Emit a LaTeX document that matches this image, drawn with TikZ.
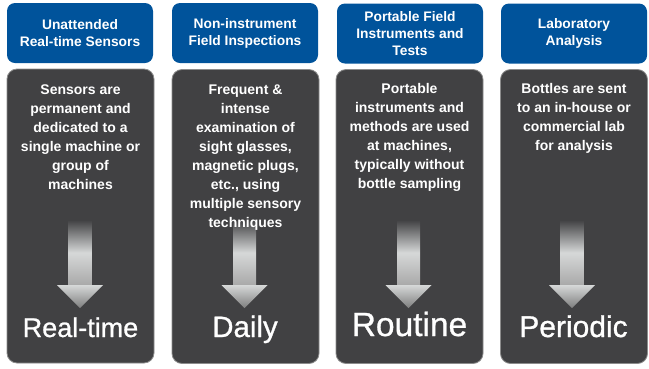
\documentclass[tikz,border=0pt]{standalone}
\usepackage{fontspec}
\setmainfont{Liberation Sans}
\newfontfamily\medfont[FakeBold=0.9]{Liberation Sans}
\definecolor{hdrblue}{HTML}{00539B}
\definecolor{boxgray}{HTML}{414143}
\definecolor{boxedge}{HTML}{8C8C8C}
\definecolor{arrlight}{HTML}{D6D8D8}
\definecolor{arrmid}{HTML}{A8A8A8}
\definecolor{arrdark}{HTML}{7E7E7E}
\begin{document}
\begin{tikzpicture}[x=1pt,y=-1pt,
  hdr/.style={fill=hdrblue, rounded corners=8pt, minimum width=146pt, minimum height=60pt,
    text=white, font=\fontsize{13.8}{17}\selectfont\bfseries, align=center, inner sep=0pt},
  body/.style={fill=boxgray, draw=boxedge, line width=0.8pt, rounded corners=10pt,
    minimum width=147pt, minimum height=294pt, inner sep=0pt},
  desc/.style={text=white, font=\fontsize{14}{19}\selectfont\bfseries, align=center,
    anchor=north, inner sep=0pt},
  big/.style={text=white, anchor=base, inner sep=0pt},
  shaft/.style={top color=boxgray, bottom color=arrmid, middle color=arrlight},
  head/.style={top color=arrlight, bottom color=arrdark},
]
\useasboundingbox (0,0) rectangle (649,368);

% header boxes
\node[hdr] (h1) at (80,33) {Unattended\\Real-time Sensors};
\node[hdr] (h2) at (245,33) {Non-instrument\\Field Inspections};
\node[hdr] (h3) at (410,33.5) {Portable Field\\Instruments and\\Tests};
\node[hdr] (h4) at (574,33.5) {Laboratory\\Analysis};

% body boxes
\node[body] (b1) at (80.5,216) {};
\node[body] (b2) at (245.5,216.5) {};
\node[body] (b3) at (409.5,216.5) {};
\node[body] (b4) at (574,216.5) {};

% arrows
\foreach \cx/\nm in {80/a1,244.5/a2,408.5/a3,572/a4}{
  \path[shaft] (\cx-11.5,220) rectangle (\cx+11.5,285.5);
  \path[head] (\cx-23,285) -- (\cx+23,285) -- (\cx,308) -- cycle;
  \coordinate (\nm) at (\cx,308);
}

% descriptions
\node[desc] (d1) at (80.5,84.5) {Sensors are\\permanent and\\dedicated to a\\single machine or\\group of\\machines};
\node[desc] (d2) at (245.5,84.5) {Frequent \&\\intense\\examination of\\sight glasses,\\magnetic plugs,\\etc., using\\multiple sensory\\techniques};
\node[desc] (d3) at (409.5,83.5) {Portable\\instruments and\\methods are used\\at machines,\\typically without\\bottle sampling};
\node[desc] (d4) at (574,83.5) {Bottles are sent\\to an in-house or\\commercial lab\\for analysis};

% frequency words
\node[big, font=\medfont\fontsize{27}{32}\selectfont] (f1) at (80.5,337) {Real-time};
\node[big, font=\medfont\fontsize{29.5}{34}\selectfont] (f2) at (245,337) {Daily};
\node[big, font=\medfont\fontsize{33.5}{38}\selectfont] (f3) at (409.5,336) {Routine};
\node[big, font=\medfont\fontsize{30}{34}\selectfont] (f4) at (573.5,337) {Periodic};
\end{tikzpicture}
\end{document}
